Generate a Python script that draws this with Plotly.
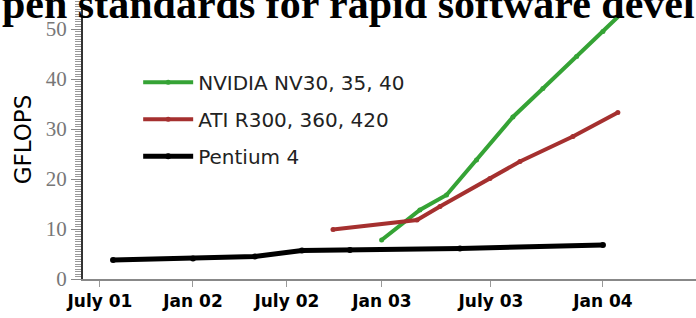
import plotly.graph_objects as go

# x positions in months since Jan 2001
tick_positions = [6, 11.55, 17.15, 22.82, 29.32, 36]
tick_labels = ["July 01", "Jan 02", "July 02", "Jan 03", "July 03", "Jan 04"]

nvidia_x = [22.80, 25.08, 26.67, 28.46, 30.63, 32.42, 34.43, 36.0, 37.01]
nvidia_y = [7.8, 13.8, 16.8, 23.8, 32.4, 38.1, 44.5, 49.5, 52.8]

ati_x = [19.90, 24.91, 26.28, 29.26, 31.05, 34.21, 36.89]
ati_y = [9.9, 11.8, 14.5, 20.1, 23.5, 28.5, 33.3]

p4_x = [6.78, 11.55, 15.24, 18.05, 20.91, 27.47, 36.0]
p4_y = [3.8, 4.1, 4.5, 5.7, 5.8, 6.1, 6.8]

fig = go.Figure()
fig.add_trace(go.Scatter(x=nvidia_x, y=nvidia_y, mode="lines+markers",
                         name="NVIDIA NV30, 35, 40", legendgroup="a",
                         line=dict(color="#35a335", width=4),
                         marker=dict(size=5, color="#35a335")))
fig.add_trace(go.Scatter(x=ati_x, y=ati_y, mode="lines+markers",
                         name="ATI R300, 360, 420", legendgroup="b",
                         line=dict(color="#a5302f", width=4),
                         marker=dict(size=5, color="#a5302f")))
fig.add_trace(go.Scatter(x=p4_x, y=p4_y, mode="lines+markers",
                         name="Pentium 4", legendgroup="c",
                         line=dict(color="#000000", width=5),
                         marker=dict(size=6, color="#000000")))

fig.update_layout(
    width=696, height=318,
    margin=dict(l=83, r=0, t=0, b=39),
    paper_bgcolor="white", plot_bgcolor="white",
    showlegend=True,
    legend=dict(x=0.09, y=0.775, xanchor="left", yanchor="top",
                bgcolor="rgba(0,0,0,0)", traceorder="grouped",
                tracegroupgap=8, itemwidth=50,
                font=dict(family="DejaVu Sans", size=20, color="#222")),
    xaxis=dict(range=[4.99, 41.55], tickvals=tick_positions, ticktext=tick_labels,
               showgrid=False, zeroline=False, showline=True, linecolor="#888",
               linewidth=2, ticks="outside", ticklen=6, tickcolor="#999",
               tickfont=dict(family="DejaVu Sans", size=17, color="#000",
                             weight="bold"),
               ticklabelstandoff=0),
    yaxis=dict(range=[0, 55.8], tickvals=[0, 10, 20, 30, 40, 50],
               showgrid=False, zeroline=False, showline=True, linecolor="#333",
               linewidth=2, ticks="outside", ticklen=10, tickcolor="#888",
               minor=dict(dtick=0.5, ticks="outside", ticklen=6, tickcolor="#999"),
               tickfont=dict(family="Liberation Serif", size=21, color="#777"),
               title=dict(text="GFLOPS", standoff=8,
                          font=dict(family="DejaVu Sans", size=23, color="#000"))),
)

fig.add_annotation(text="pen standards for rapid software devel",
                   xref="paper", yref="paper", x=-83 / 613, y=0.985,
                   xanchor="left", yanchor="middle", showarrow=False,
                   font=dict(family="Liberation Serif", size=42, color="#000",
                             weight="bold"))

fig.write_html("out.html", config={"displayModeBar": False},
               post_script="document.body.style.margin='0';document.body.style.overflow='hidden';")
